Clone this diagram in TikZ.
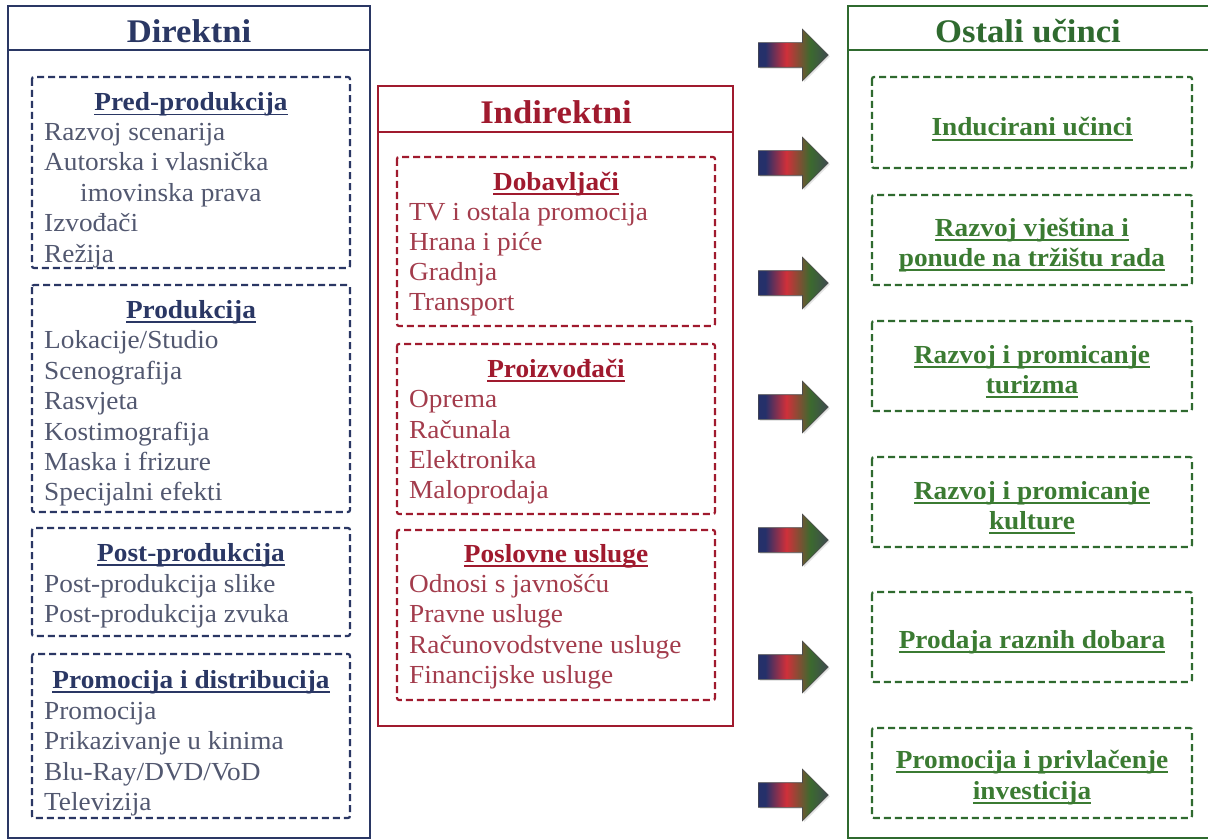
\documentclass[tikz,border=0pt]{standalone}
\usepackage{fontspec}
\setmainfont[FakeStretch=1.05]{Liberation Serif}
\newsavebox\ulbox
\newcommand\myul[1]{\sbox\ulbox{#1}\rlap{\rule[-4.5pt]{\wd\ulbox}{1.8pt}}\usebox\ulbox}
\usetikzlibrary{shapes.arrows,shadows}
\definecolor{navy}{HTML}{2A3764}
\definecolor{navytxt}{HTML}{525870}
\definecolor{dred}{HTML}{A01A2E}
\definecolor{redtxt}{HTML}{A33C4C}
\definecolor{dgreen}{HTML}{2F6A2F}
\definecolor{greentxt}{HTML}{3B7B32}
\definecolor{arrA}{HTML}{25306A}
\definecolor{arrB}{HTML}{D0303A}
\definecolor{arrC}{HTML}{3C6A2E}
\definecolor{arrD}{HTML}{3E4A50}
\pgfdeclarehorizontalshading{arrsh}{100bp}{color(0bp)=(arrA); color(25bp)=(arrA); color(30bp)=(arrA); color(45bp)=(arrB); color(62bp)=(arrC); color(75bp)=(arrD); color(100bp)=(arrD)}
\tikzset{
 outer/.style={line width=2.6pt},
 dbox/.style={line width=2.2pt, dash pattern=on 7pt off 4pt, rounded corners=2pt},
 titleF/.style={inner sep=0pt, anchor=base, yshift=-1.5pt, font=\fontsize{33}{36}\selectfont\bfseries},
 headF/.style={inner sep=0pt, anchor=base, yshift=-2pt, font=\fontsize{26}{30}\selectfont\bfseries},
 itemF/.style={inner sep=0pt, anchor=base west, yshift=-2pt, font=\fontsize{26}{30}\selectfont},
 grarrow/.style={single arrow, minimum height=70pt, anchor=tail,
   inner xsep=0pt, inner ysep=12pt, text width=0pt, text height=0pt, text depth=0pt,
   single arrow head extend=13.5pt, single arrow head indent=0pt,
   shading=arrsh, draw=gray!60!black, line width=0.6pt,
   drop shadow={opacity=0.2, shadow xshift=1.5pt, shadow yshift=-1.5pt}}
}
\begin{document}
\begin{tikzpicture}[x=1pt,y=-1pt]
\useasboundingbox (0,0) rectangle (1208,840);
\fill[white] (0,0) rectangle (1208,840);
% ---------- Direktni ----------
\draw[outer,navy] (8,6) rectangle (370,838);
\draw[outer,navy] (8,50) -- (370,50);
\node[titleF,text=navy] (dirT) at (189,41) {Direktni};
\draw[dbox,navy] (32,77) rectangle (350,268);
\draw[dbox,navy] (32,285) rectangle (350,512);
\draw[dbox,navy] (32,528) rectangle (350,636);
\draw[dbox,navy] (32,654) rectangle (350,818);
\node[headF,text=navy] (h1) at (191,109) {\myul{Pred-produkcija}};
\foreach \y/\t [count=\i] in {139/Razvoj scenarija,169/Autorska i vlasnička,229/Izvođači,260/Režija}
  \node[itemF,text=navytxt] (a\i) at (44,\y) {\t};
\node[itemF,text=navytxt] (a5) at (80,199) {imovinska prava};
\node[headF,text=navy] (h2) at (191,316) {\myul{Produkcija}};
\foreach \y/\t [count=\i] in {346/{Lokacije/Studio},377/Scenografija,407/Rasvjeta,438/Kostimografija,468/Maska i frizure,498/Specijalni efekti}
  \node[itemF,text=navytxt] (b\i) at (44,\y) {\t};
\node[headF,text=navy] (h3) at (191,559) {\myul{Post-produkcija}};
\foreach \y/\t [count=\i] in {590/Post-produkcija slike,620/Post-produkcija zvuka}
  \node[itemF,text=navytxt] (c\i) at (44,\y) {\t};
\node[headF,text=navy] (h4) at (191,686) {\myul{Promocija i distribucija}};
\foreach \y/\t [count=\i] in {717/Promocija,747/Prikazivanje u kinima,778/{Blu-Ray/DVD/VoD},808/Televizija}
  \node[itemF,text=navytxt] (d\i) at (44,\y) {\t};
% ---------- Indirektni ----------
\draw[outer,dred] (378,86) rectangle (733,726);
\draw[outer,dred] (378,132) -- (733,132);
\node[titleF,text=dred] (indT) at (556,122) {Indirektni};
\draw[dbox,dred] (397,157) rectangle (715,326);
\draw[dbox,dred] (397,344) rectangle (715,514);
\draw[dbox,dred] (397,530) rectangle (715,700);
\node[headF,text=dred] (m1) at (556,188) {\myul{Dobavljači}};
\foreach \y/\t [count=\i] in {218/TV i ostala promocija,248/Hrana i piće,278/Gradnja,308/Transport}
  \node[itemF,text=redtxt] (e\i) at (409,\y) {\t};
\node[headF,text=dred] (m2) at (556,375) {\myul{Proizvođači}};
\foreach \y/\t [count=\i] in {405/Oprema,436/Računala,466/Elektronika,496/Maloprodaja}
  \node[itemF,text=redtxt] (f\i) at (409,\y) {\t};
\node[headF,text=dred] (m3) at (556,560) {\myul{Poslovne usluge}};
\foreach \y/\t [count=\i] in {590/Odnosi s javnošću,620/Pravne usluge,651/Računovodstvene usluge,681/Financijske usluge}
  \node[itemF,text=redtxt] (g\i) at (409,\y) {\t};
% ---------- Ostali ucinci ----------
\draw[outer,dgreen] (848,6) rectangle (1212,838);
\draw[outer,dgreen] (848,50) -- (1212,50);
\node[titleF,text=dgreen] (ostT) at (1028,41) {Ostali učinci};
\foreach \ya/\yb in {77/168,195/285,321/411,457/547,592/682,728/818}
  \draw[dbox,dgreen] (872,\ya) rectangle (1192,\yb);
\foreach \y/\t [count=\i] in {134/Inducirani učinci,234/Razvoj vještina i,264/ponude na tržištu rada,361/Razvoj i promicanje,391/turizma,497/Razvoj i promicanje,527/kulture,646/Prodaja raznih dobara,766/Promocija i privlačenje,797/investicija}
  \node[headF,text=greentxt] (r\i) at (1032,\y) {\myul{\t}};
% ---------- arrows ----------
\foreach \y [count=\i] in {55,163,283,407,540,667,795}
  \node[grarrow] (ar\i) at (758,\y) {};
\end{tikzpicture}
\end{document}
